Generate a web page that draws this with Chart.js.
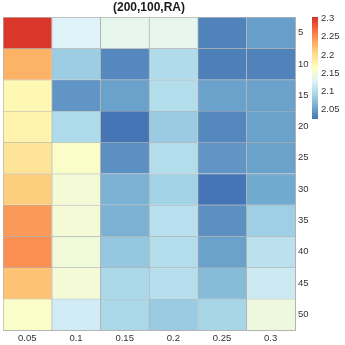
<!DOCTYPE html>
<html lang="en">
<head>
    <meta charset="UTF-8">
    <title>heatmap</title>
    <style>
        html, body { margin: 0; padding: 0; background: #fff; }
        .chartBox { width: 345px; height: 345px; }
    </style>
</head>
<body>
    <div class="chartBox">
        <canvas id="heatChart"></canvas>
    </div>

    <script src="https://cdn.jsdelivr.net/npm/chart.js"></script>
    <script>
        // columns (x) and rows (y, top to bottom)
        const colLabels = ['0.05', '0.1', '0.15', '0.2', '0.25', '0.3'];
        const rowLabels = ['5', '10', '15', '20', '25', '30', '35', '40', '45', '50'];

        // cell values, one array per row, top row first
        const zValues = [
            [2.300, 2.128, 2.137, 2.137, 2.033, 2.051],
            [2.231, 2.085, 2.037, 2.098, 2.031, 2.033],
            [2.173, 2.045, 2.053, 2.100, 2.053, 2.053],
            [2.178, 2.097, 2.025, 2.084, 2.036, 2.053],
            [2.195, 2.159, 2.042, 2.100, 2.045, 2.053],
            [2.212, 2.151, 2.064, 2.089, 2.025, 2.058],
            [2.245, 2.151, 2.064, 2.103, 2.042, 2.087],
            [2.251, 2.148, 2.081, 2.100, 2.053, 2.106],
            [2.220, 2.151, 2.095, 2.102, 2.072, 2.117],
            [2.159, 2.120, 2.094, 2.084, 2.092, 2.145]
        ];

        // colour bar
        const cbTicks = [2.05, 2.1, 2.15, 2.2, 2.25, 2.3];
        const zMin = 2.025;
        const zMax = 2.304;

        // RdYlBu reversed (blue = low)
        const palette = ['#4575b4', '#74add1', '#abd9e9', '#e0f3f8', '#ffffbf',
            '#fee090', '#fdae61', '#f46d43', '#d73027'];

        function hexRgb(h) {
            return [parseInt(h.substr(1, 2), 16), parseInt(h.substr(3, 2), 16), parseInt(h.substr(5, 2), 16)];
        }

        function colorFor(v) {
            let t = (v - zMin) / (zMax - zMin);
            t = Math.max(0, Math.min(1, t));
            const pos = t * (palette.length - 1);
            const i = Math.min(Math.floor(pos), palette.length - 2);
            const f = pos - i;
            const a = hexRgb(palette[i]), b = hexRgb(palette[i + 1]);
            const c = a.map((x, k) => Math.round(x + (b[k] - x) * f));
            return 'rgb(' + c.join(',') + ')';
        }

        const FONT = "'Liberation Sans', Arial, sans-serif";
        const gridGrey = '#b3b3b3';

        // title + colour bar
        const extras = {
            id: 'extras',
            afterDraw(chart) {
                const c = chart.ctx;
                const area = chart.chartArea;
                c.save();
                c.fillStyle = '#1a1a1a';
                c.font = 'bold 12px ' + FONT;
                c.textAlign = 'center';
                c.textBaseline = 'middle';
                c.fillText('(200,100,RA)', (area.left + area.right) / 2, 8);

                const cbX = 312, cbW = 6, cbTop = 17, cbBottom = 119;
                const yFor = v => cbBottom - (v - zMin) / (zMax - zMin) * (cbBottom - cbTop);
                const grad = c.createLinearGradient(0, cbBottom, 0, cbTop);
                palette.forEach((col, k) => grad.addColorStop(k / (palette.length - 1), col));
                c.fillStyle = grad;
                c.fillRect(cbX, cbTop, cbW, cbBottom - cbTop);

                c.fillStyle = '#333';
                c.font = '9.5px ' + FONT;
                c.textAlign = 'left';
                cbTicks.forEach(v => c.fillText(String(v), cbX + cbW + 3, yFor(v)));
                c.restore();
            }
        };

        const datasets = rowLabels.map((r, i) => ({
            label: r,
            data: colLabels.map(() => 1),
            backgroundColor: zValues[i].map(colorFor),
            borderColor: gridGrey,
            borderWidth: { top: 1, left: 1, right: 0, bottom: 0 },
            borderSkipped: false,
            barPercentage: 1,
            categoryPercentage: 1
        }));

        const cfg = {
            type: 'bar',
            data: { labels: colLabels, datasets },
            options: {
                responsive: true,
                maintainAspectRatio: false,
                animation: false,
                layout: { padding: { top: 17, left: 3, right: 0, bottom: 0 } },
                plugins: {
                    legend: { display: false },
                    tooltip: { enabled: false }
                },
                scales: {
                    x: {
                        stacked: true,
                        grid: { display: false, drawTicks: false },
                        border: { display: true, color: gridGrey, width: 1 },
                        ticks: { color: '#333', font: { size: 9.5, family: FONT }, padding: 3, maxRotation: 0 },
                        afterFit: s => { s.height = 15; }
                    },
                    y: {
                        stacked: true,
                        position: 'right',
                        reverse: true,
                        min: 0,
                        max: rowLabels.length,
                        grid: { display: false, drawTicks: false },
                        border: { display: true, color: gridGrey, width: 1 },
                        afterBuildTicks: s => { s.ticks = rowLabels.map((_, i) => ({ value: i + 0.5 })); },
                        ticks: {
                            color: '#333',
                            font: { size: 9.5, family: FONT },
                            padding: 3,
                            callback: v => rowLabels[Math.floor(v)]
                        },
                        afterFit: s => { s.width = 50; }
                    }
                }
            },
            plugins: [extras]
        };

        new Chart(document.getElementById('heatChart'), cfg);
    </script>
</body>
</html>
